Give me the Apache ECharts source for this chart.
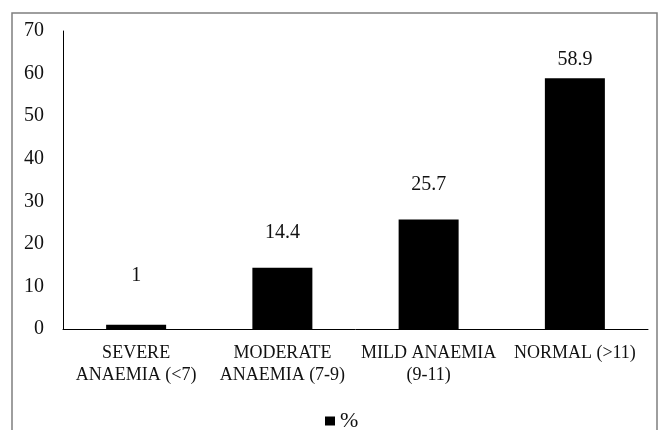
<!DOCTYPE html>
<html>
<head>
<meta charset="utf-8">
<script src="https://cdn.jsdelivr.net/npm/echarts@6/dist/echarts.min.js"></script>
<style>
html,body{margin:0;padding:0;background:#fff;}
#chart{width:663px;height:430px;}
</style>
</head>
<body>
<div id="chart"></div>
<script>
const categories = ["SEVERE\nANAEMIA (<7)", "MODERATE\nANAEMIA (7-9)", "MILD ANAEMIA\n(9-11)", "NORMAL (>11)"];
const values = [1, 14.4, 25.7, 58.9];
const seriesName = "%";
const yTicks = [0, 10, 20, 30, 40, 50, 60, 70];

const labelGap = [39, 25, 25, 9];
const FONT = "'Liberation Serif', 'DejaVu Serif', serif";

const chart = echarts.init(document.getElementById('chart'), null, {renderer: 'canvas'});
chart.setOption({
  animation: false,
  backgroundColor: '#fff',
  textStyle: {fontFamily: FONT},
  graphic: [{
    type: 'rect',
    shape: {x: 12, y: 13, width: 645, height: 440},
    style: {fill: 'none', stroke: '#7f7f7f', lineWidth: 1.5},
    silent: true
  }],
  grid: {left: 63, right: 15, top: 31, bottom: 101, containLabel: false},
  legend: {
    data: [seriesName],
    top: 405,
    left: 320,
    icon: 'rect',
    itemWidth: 10,
    itemHeight: 9,
    itemGap: 4,
    textStyle: {fontFamily: FONT, fontSize: 22, color: '#111'}
  },
  xAxis: {
    type: 'category',
    data: categories,
    axisLine: {lineStyle: {color: '#000', width: 1}},
    axisTick: {show: false},
    axisLabel: {fontFamily: FONT, fontSize: 18, color: '#111', lineHeight: 22, margin: 13, interval: 0}
  },
  yAxis: {
    type: 'value',
    min: yTicks[0],
    max: yTicks[yTicks.length - 1],
    interval: 10,
    axisLine: {show: true, lineStyle: {color: '#000', width: 1}},
    axisTick: {show: false},
    splitLine: {show: false},
    axisLabel: {fontFamily: FONT, fontSize: 20, color: '#111', margin: 19}
  },
  series: [{
    name: seriesName,
    type: 'bar',
    barWidth: 60,
    itemStyle: {color: '#000'},
    data: values.map((v, i) => ({
      value: v,
      label: {distance: labelGap[i]}
    })),
    label: {
      show: true,
      position: 'top',
      fontFamily: FONT,
      fontSize: 20,
      color: '#111'
    }
  }]
});
</script>
</body>
</html>
